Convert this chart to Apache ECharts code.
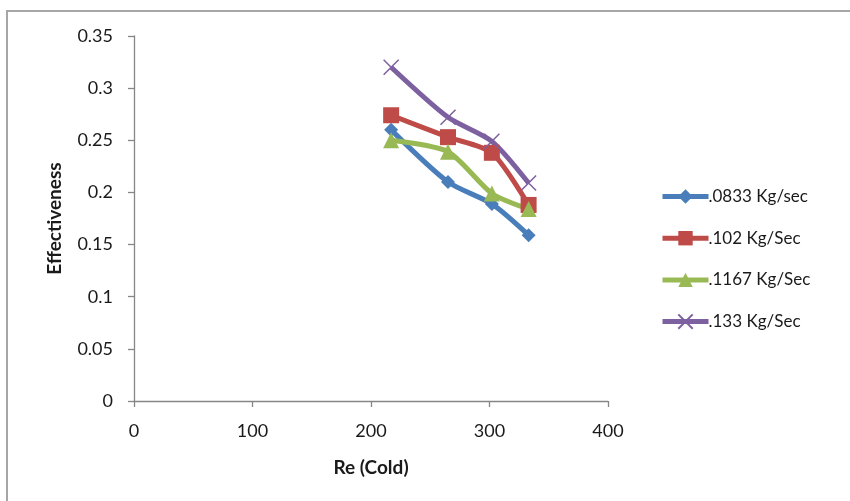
<!DOCTYPE html>
<html>
<head>
<meta charset="utf-8">
<script src="https://cdn.jsdelivr.net/npm/echarts@6/dist/echarts.min.js"></script>
<style>
  html, body { margin: 0; padding: 0; background: #ffffff; }
  #frame { position: absolute; left: 6px; top: 10px; width: 860px; height: 500px;
           border-left: 2px solid #a6a6a6; border-top: 2px solid #a6a6a6; }
  #chart { position: absolute; left: 0; top: 0; width: 850px; height: 501px; }
</style>
</head>
<body>
<div id="frame"></div>
<div id="chart"></div>
<script>
// Reynolds number of the cold stream
const reCold = [217, 265, 302, 333];

// Effectiveness for each hot-stream mass flow rate
const seriesNames = ['.0833 Kg/sec', '.102 Kg/Sec', '.1167 Kg/Sec', '.133 Kg/Sec'];
const eff0833 = [0.260, 0.210, 0.189, 0.159];
const eff102  = [0.274, 0.253, 0.238, 0.188];
const eff1167 = [0.250, 0.239, 0.199, 0.184];
const eff133  = [0.320, 0.272, 0.249, 0.209];

const yTicks = { min: 0, max: 0.35, interval: 0.05 };
const xTicks = { min: 0, max: 400, interval: 100 };

const colors = ['#4a7ebb', '#be4b48', '#98b954', '#7d60a0'];
const font = 'Lato, "Open Sans", sans-serif';

function pairs(ys) { return reCold.map((x, i) => [x, ys[i]]); }

function makeSeries(name, ys, color, symbol, size, extraItem) {
  return {
    name: name,
    type: 'line',
    data: pairs(ys),
    smooth: 0.25,
    symbol: symbol,
    symbolSize: size,
    showAllSymbol: true,
    lineStyle: { color: color, width: 5 },
    itemStyle: Object.assign({ color: color }, extraItem || {}),
    emphasis: { disabled: true },
    z: 2
  };
}

const chart = echarts.init(document.getElementById('chart'), null, { renderer: 'canvas' });
chart.setOption({
  animation: false,
  backgroundColor: 'transparent',
  textStyle: { fontFamily: font },
  grid: { left: 134, right: 242, top: 36, bottom: 100, containLabel: false },
  legend: {
    orient: 'vertical',
    left: 655,
    top: 183,
    itemWidth: 46,
    itemHeight: 18,
    itemGap: 24.7,
    lineStyle: { width: 5 },
    textStyle: { fontFamily: font, fontSize: 17, color: '#1a1a1a', padding: [0, 0, 0, -5] },
    data: seriesNames
  },
  xAxis: {
    type: 'value',
    min: xTicks.min, max: xTicks.max, interval: xTicks.interval,
    name: 'Re (Cold)',
    nameLocation: 'middle',
    nameGap: 57,
    nameTextStyle: { fontFamily: font, fontSize: 19, fontWeight: 'bold', color: '#1a1a1a' },
    axisLine: { show: true, onZero: false, lineStyle: { color: '#868686', width: 1.3 } },
    axisTick: { show: true, inside: false, length: 6, lineStyle: { color: '#868686', width: 1.3 } },
    axisLabel: { fontFamily: font, fontSize: 18, color: '#1a1a1a', margin: 21 },
    splitLine: { show: false }
  },
  yAxis: {
    type: 'value',
    min: yTicks.min, max: yTicks.max, interval: yTicks.interval,
    name: 'Effectiveness',
    nameLocation: 'middle',
    nameGap: 70,
    nameRotate: 90,
    nameTextStyle: { fontFamily: font, fontSize: 19, fontWeight: 'bold', color: '#1a1a1a' },
    axisLine: { show: true, lineStyle: { color: '#868686', width: 1.3 } },
    axisTick: { show: true, inside: false, length: 6, lineStyle: { color: '#868686', width: 1.3 } },
    axisLabel: { fontFamily: font, fontSize: 18, color: '#1a1a1a', margin: 21 },
    splitLine: { show: false }
  },
  series: [
    makeSeries(seriesNames[0], eff0833, colors[0], 'diamond', 14),
    makeSeries(seriesNames[1], eff102, colors[1], 'rect', 16),
    makeSeries(seriesNames[2], eff1167, colors[2], 'triangle', 16),
    makeSeries(seriesNames[3], eff133, colors[3], 'path://M0,0L10,10M10,0L0,10', 15,
      { borderColor: colors[3], borderWidth: 1.5 })
  ]
});
</script>
</body>
</html>
